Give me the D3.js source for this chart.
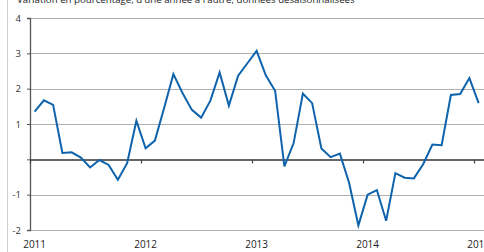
<!DOCTYPE html>
<html>
<head>
<meta charset="utf-8">
<script src="https://cdn.jsdelivr.net/npm/d3@7"></script>
<style>
  body { margin: 0; background: #fff; }
  svg { display: block; font-family: "Open Sans", "Noto Sans", sans-serif; }
</style>
</head>
<body>
<div id="chart"></div>
<script>
// monthly, Jan 2011 .. Jan 2015
const values = [
    1.35, 1.67, 1.54, 0.18, 0.2, 0.05, -0.23, -0.02, -0.16, -0.58, -0.11, 1.09,
    0.31, 0.53, 1.45, 2.41, 1.87, 1.4, 1.18, 1.66, 2.46, 1.52, 2.37, 2.72,
    3.07, 2.37, 1.94, -0.2, 0.46, 1.86, 1.59, 0.31, 0.06, 0.16, -0.67, -1.87,
    -1.0, -0.87, -1.74, -0.39, -0.52, -0.54, -0.14, 0.42, 0.4, 1.82, 1.85, 2.3,
    1.59
];
const years = ["2011", "2012", "2013", "2014", "2015"];
const yTicks = [-2, -1, 0, 1, 2, 3, 4];
const subtitle = "Variation en pourcentage, d'une année à l'autre, données désaisonnalisées";

const width = 484, height = 252;

const svg = d3.select("#chart")
    .append("svg")
    .attr("width", width)
    .attr("height", height);

// months since Jan 2011
const x = d3.scaleLinear().domain([0, 49.08]).range([30, 484]);
const y = d3.scaleLinear().domain([-2, 4]).range([230, 18]);

svg.append("line")
    .attr("x1", 7.5).attr("x2", 7.5)
    .attr("y1", 0).attr("y2", height)
    .attr("stroke", "#d0d0d0");

svg.append("text")
    .attr("x", 17)
    .attr("y", 3)
    .attr("font-size", 9.7)
    .attr("fill", "#222")
    .text(subtitle);

// grid lines
svg.append("g")
    .selectAll("line")
    .data(yTicks.filter(d => d !== 0))
    .enter()
    .append("line")
    .attr("x1", x(0)).attr("x2", width)
    .attr("y1", d => Math.round(y(d)) + 0.5)
    .attr("y2", d => Math.round(y(d)) + 0.5)
    .attr("stroke", "#b0b0b0")
    .attr("stroke-width", 1.2);

// y axis
const yAxis = svg.append("g")
    .attr("transform", `translate(${x(0)},0)`)
    .call(d3.axisLeft(y).tickValues(yTicks).tickSize(3).tickPadding(6)
        .tickFormat(d => d === 0 ? "" : d));
yAxis.select(".domain").attr("stroke", "#555").attr("stroke-width", 1.3);
yAxis.selectAll(".tick line").attr("stroke", "#555");
yAxis.selectAll("text")
    .attr("font-size", 9.5)
    .attr("fill", "#333")
    .attr("font-family", "'Open Sans', 'Noto Sans', sans-serif");

// zero line with year ticks
const xAxis = svg.append("g")
    .attr("transform", `translate(0,${Math.round(y(0)) + 0.5})`)
    .call(d3.axisBottom(x).tickValues([0, 12, 24, 36, 48]).tickSize(4)
        .tickSizeOuter(0).tickFormat(""));
xAxis.select(".domain").attr("stroke", "#333").attr("stroke-width", 1.4);
xAxis.selectAll(".tick line").attr("stroke", "#444").attr("stroke-width", 1.2);

// year labels, centred on January
svg.append("g")
    .selectAll("text")
    .data(years)
    .enter()
    .append("text")
    .attr("x", (d, i) => x(i * 12 + 0.5))
    .attr("y", 248)
    .attr("text-anchor", "middle")
    .attr("font-size", 10)
    .attr("fill", "#222")
    .text(d => d);

const line = d3.line()
    .x((d, i) => x(i + 0.5))
    .y(d => y(d));

svg.append("path")
    .datum(values)
    .attr("d", line)
    .attr("fill", "none")
    .attr("stroke", "#0f63ac")
    .attr("stroke-width", 2)
    .attr("stroke-linejoin", "miter");
</script>
</body>
</html>
